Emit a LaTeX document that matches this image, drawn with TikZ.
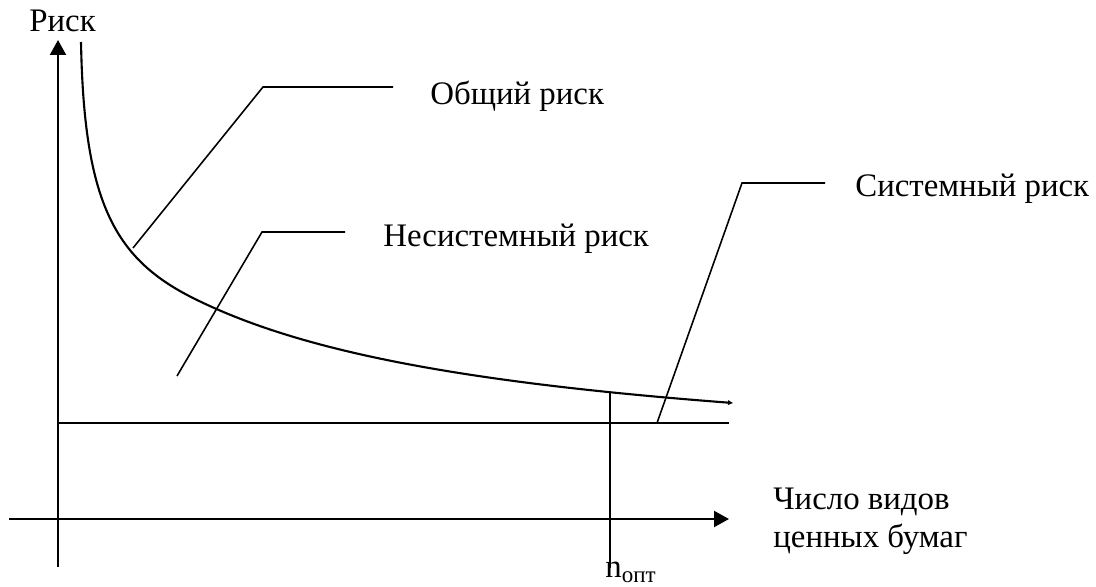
\documentclass[tikz,border=0pt]{standalone}
\usepackage{fontspec}
\setmainfont{Liberation Serif}
\usetikzlibrary{arrows.meta}
\begin{document}
\begin{tikzpicture}[x=0.02cm,y=-0.02cm,
  axis/.style={line width=1.2pt,-{Triangle[length=0.3cm,width=0.32cm]}},
  plain/.style={line width=1.2pt},
  leader/.style={line width=0.9pt},
  lbl/.style={inner sep=0pt,anchor=base west,font=\fontsize{18.7}{22}\selectfont}]
\useasboundingbox (0,0) rectangle (1096,587);
% axes
\coordinate (yb) at (58,567);
\coordinate (yt) at (58,40);
\coordinate (xl) at (9,519);
\coordinate (xr) at (729,519);
\draw[axis] (yb) -- (yt);
\draw[axis] (xl) -- (xr);
% systematic risk level
\coordinate (s0) at (58,423);
\coordinate (s1) at (729,423);
\draw[plain] (s0) -- (s1);
% total risk curve
\coordinate (c0) at (81,42);
\coordinate (c1) at (193,298);
\draw[line width=1.2pt,-{Triangle[length=0.1cm,width=0.09cm]}]
  (c0) .. controls (84,200) and (113,258) .. (c1)
  -- plot[domain=193:733,samples=90] (\x,{469.7-588.9/((\x+150)/100)});
% n_opt
\coordinate (n0) at (610,392);
\coordinate (n1) at (610,568);
\draw[plain] (n0) -- (n1);
% labels
\node[lbl] (risk) at (29,32) {Риск};
\node[lbl] (total) at (430,105) {Общий риск};
\node[lbl] (nonsys) at (383,247) {Несистемный риск};
\node[lbl] (sys) at (855,197) {Системный риск};
\node[lbl] (xlab1) at (773,510) {Число видов};
\node[lbl] (xlab2) at (773,548) {ценных бумаг};
\node[lbl] (nopt) at (605,578) {n\textsubscript{опт}};
% leader lines
\coordinate (t0) at (133,248);
\coordinate (t1) at (263,87);
\coordinate (t2) at (393,87);
\draw[leader] (t0) -- (t1) -- (t2);
\coordinate (u0) at (177,376);
\coordinate (u1) at (262,232);
\coordinate (u2) at (345,232);
\draw[leader] (u0) -- (u1) -- (u2);
\coordinate (v0) at (657,423);
\coordinate (v1) at (742,183);
\coordinate (v2) at (825,183);
\draw[leader] (v0) -- (v1) -- (v2);
\end{tikzpicture}
\end{document}
